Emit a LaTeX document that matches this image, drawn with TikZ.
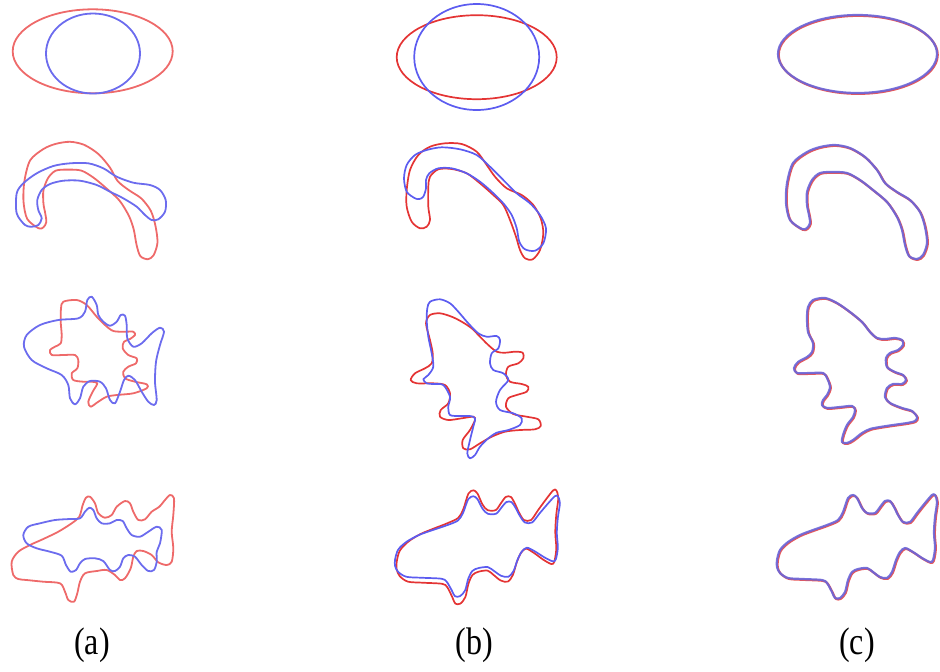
\documentclass[tikz,border=0pt]{standalone}
\usepackage{fontspec}
\setmainfont{Liberation Serif}
\definecolor{rda}{HTML}{EE6A6A}
\definecolor{bla}{HTML}{6C6CEE}
\definecolor{rdb}{HTML}{E43434}
\definecolor{blb}{HTML}{5C5CF0}
\definecolor{rdc}{HTML}{E85858}
\definecolor{blc}{HTML}{6A66DA}

\tikzset{
  reda/.style={rda,line width=0.9pt},
  bluea/.style={bla,line width=0.9pt},
  redb/.style={rdb,line width=0.85pt},
  blueb/.style={blb,line width=0.85pt},
  redc/.style={rdc,line width=1.1pt},
  bluec/.style={blc,line width=1.1pt,opacity=0.9},
  caption/.style={font=\fontsize{16}{19}\selectfont,inner sep=0pt,yscale=1.2,transform shape}
}

% outlines of the shapes, centred on (0,0)
\newcommand{\hookshape}[1]{\draw[#1] plot[smooth cycle,tension=0.5] coordinates {
  (-54,27) (-66,18) (-70,1) (-69,-19) (-63,-39) (-49,-50) (-36,-55) (-21,-57)
  (-6,-54) (9,-45) (21,-32) (29,-19) (41,-10) (54,-2) (64,10) (69,25) (71,41)
  (67,53) (61,57) (53,54) (49,43) (46,28) (41,15) (31,0) (17,-12) (4,-22)
  (-9,-29) (-23,-30) (-36,-29) (-44,-22) (-49,-10) (-49,3) (-47,13) (-46,21) (-49,26)};}
\newcommand{\birdshape}[1]{\draw[#1] plot[smooth cycle,tension=0.5] coordinates {
  (-43,-70) (-31,-72) (-19,-67) (-6,-58) (6,-48) (14,-38) (21,-32) (29,-31) (39,-32)
  (46,-30) (47,-25) (42,-20) (34,-17) (30,-12) (31,-3) (39,2) (47,5) (50,10) (46,14)
  (37,14) (31,18) (29,27) (34,33) (46,38) (56,41) (61,47) (59,51) (51,53) (37,55)
  (24,57) (14,59) (6,63) (-3,70) (-9,73) (-14,72) (-13,65) (-9,55) (-3,47) (-1,40)
  (-4,36) (-16,37) (-29,38) (-34,35) (-33,30) (-29,25) (-26,17) (-29,8) (-33,3)
  (-46,3) (-59,3) (-62,-2) (-58,-8) (-49,-13) (-44,-18) (-43,-27) (-48,-38) (-49,-52) (-48,-63)};}
\newcommand{\fishshape}[1]{\draw[#1] plot[smooth cycle,tension=0.5] coordinates {
  (-80,13) (-77,3) (-69,-5) (-57,-12) (-44,-17) (-30,-22) (-19,-27) (-14,-35) (-9,-49)
  (-4,-52) (0,-49) (5,-39) (10,-34) (18,-34) (23,-40) (28,-46) (33,-46) (37,-40)
  (41,-32) (46,-25) (53,-25) (60,-34) (68,-44) (75,-52) (78,-52) (80,-45) (78,-30)
  (77,-14) (78,1) (76,13) (73,15) (65,11) (56,5) (48,1) (43,5) (39,13) (35,25) (30,31)
  (23,30) (16,25) (10,21) (1,22) (-5,25) (-9,33) (-12,45) (-17,51) (-22,51) (-25,45)
  (-30,36) (-35,33) (-54,32) (-69,31) (-77,26) (-80,20)};}

\begin{document}
\begin{tikzpicture}[x=0.5pt,y=-0.5pt,line cap=round,line join=round]
  \useasboundingbox (0,0) rectangle (940,671);

  % ellipses
  \draw[reda] (92.7,51.3) ellipse [x radius=80,y radius=42];
  \draw[bluea] (93,53.5) ellipse [x radius=47,y radius=40];
  \draw[redb] (476.7,57.2) ellipse [x radius=80,y radius=42];
  \draw[blueb] (476.7,57) ellipse [x radius=62.5,y radius=53];
  \draw[redc] (858.2,54.8) ellipse [x radius=79.5,y radius=39];
  \draw[bluec] (857.5,54) ellipse [x radius=79.5,y radius=39];

  % hooks
  \hookshape{reda,shift={(90,200.5)},xscale=0.95,yscale=1.03}
  \draw[bluea] plot[smooth cycle,tension=0.5] coordinates {
    (25,225) (16.7,213.3) (16.7,193.3) (23.3,183.3) (36.7,173.3) (53.3,166) (70,163.3)
    (88.3,163.3) (103.3,168.3) (116.7,176.7) (133.3,182.7) (150,185) (160,190)
    (165.7,200) (165,211.7) (158.3,219.3) (151.7,220) (145,215) (136.7,206.7)
    (123.3,198.3) (110,191.7) (96.7,185) (80,180.7) (63.3,180.7) (50,184) (41.7,190)
    (37.3,200) (38.3,210) (41.7,218.3) (38.3,225) (31.7,226.7)};
  \draw[redb] plot[smooth cycle,tension=0.5] coordinates {
    (420,228.3) (411.7,221.7) (406.7,206.7) (406.7,190) (410,170) (418.3,155)
    (430,146.7) (445,143.3) (461.7,144) (476.7,151.7) (486.7,165) (495,176.7)
    (506.7,188.3) (521.7,195) (533.3,205) (540.7,218.3) (543.3,233.3) (540,250)
    (532.7,259.3) (525,258.3) (520,250) (516,236.7) (510,220) (503.3,205) (493.3,195)
    (480,183.3) (466.7,173.3) (451.7,169) (438.3,169.3) (430,176.7) (428.3,186.7)
    (428.3,206.7) (430,220) (426.7,226.7)};
  \draw[blueb] plot[smooth cycle,tension=0.5] coordinates {
    (415,198.3) (406.7,191.7) (404,178.3) (406.7,165) (415,155) (426.7,150)
    (441.7,147.3) (460,149.3) (476.7,155) (490,166.7) (503.3,180) (516.7,193.3)
    (530,203.3) (540,215) (546,228.3) (543.3,243.3) (535,250.7) (525,249.3)
    (519.3,241.7) (516.7,228.3) (511.7,215) (503.3,203.3) (491.7,191.7) (480,181.7)
    (466.7,173.3) (451.7,168.3) (438.3,168.3) (429.3,173.3) (426,180) (426,188.3)
    (423.3,196.7) (419.3,199)};
  \hookshape{redc,shift={(856.8,202.8)}}
  \hookshape{bluec,shift={(856,202)}}

  % birds
  \draw[reda] plot[smooth cycle,tension=0.5] coordinates {
    (63.3,301.7) (76.7,300) (86.7,305) (96.7,316.7) (105,325) (113.3,331) (125,331.7)
    (133.3,331.7) (135,335) (130,339) (124,341.7) (122.7,348.3) (128.3,355) (136.7,358.3)
    (136,363.3) (128.3,366.7) (123.3,371.7) (125,378.3) (135,381.7) (146.7,384.3)
    (146.7,388.3) (133.3,393.3) (116.7,395) (106.7,396.7) (98.3,401.7) (90.7,406.7)
    (88.3,401.7) (92.7,391.7) (97.3,383.3) (91.7,381.7) (83.3,381.7) (73.3,380)
    (71.7,373.3) (77.3,368.3) (78.3,360) (75,355) (63.3,355) (51.7,355) (50,350)
    (55,346.7) (60.7,343.3) (61.7,335) (60.7,321.7) (61,308.3)};
  \draw[bluea] plot[smooth cycle,tension=0.5] coordinates {
    (91.7,296.7) (96.7,305) (98.3,315) (103.3,321.7) (110,325.7) (116.7,321.7)
    (120.7,315) (125,315.7) (126.7,325) (127.3,338.3) (133.3,346.7) (141.7,343.3)
    (151.7,333.3) (160,327.7) (164,331.7) (160,345) (156,361.7) (155,381.7) (156.7,400)
    (154,405) (148.3,401.7) (141.7,391.7) (135,380) (128.3,375.7) (124,380) (120,391.7)
    (115,403.3) (110,400) (106,388.3) (100,381.7) (90,381) (83.3,386.7) (80,398.3)
    (75,404.3) (70,398.3) (68.3,385) (61.7,375) (46.7,368.3) (31.7,360) (24,346.7)
    (26.7,335) (40,325) (58.3,320) (78.3,318.3) (85,311.7) (87.3,300)};
  \draw[redb] plot[smooth cycle,tension=0.5] coordinates {
    (430,315) (440,313.3) (451.7,316.7) (461.7,321.7) (471.7,328.3) (480,336.7)
    (488.3,345) (496.7,351.7) (505,352.7) (515,351.7) (522.7,352.7) (523.3,358.3)
    (518.3,363.3) (508.3,366.7) (506,375) (510,381.7) (521.7,384) (528.3,386.7)
    (526.7,391.7) (516.7,395) (508.3,398.3) (506,406.7) (513.3,414) (526.7,416.7)
    (538.3,419.3) (540.7,426) (535,429.3) (520,430) (505,431.7) (491.7,436.7) (480,443.3)
    (470,449.3) (463.3,448.3) (462.7,440) (470,430) (475,420) (473.3,416.7) (461.7,418.3)
    (448.3,420) (440,416.7) (440.7,410) (448.3,403.3) (450,393.3) (445,385) (433.3,383.3)
    (416.7,383.3) (410.7,380) (415,373.3) (425,368.3) (431.7,363.3) (432.7,353.3)
    (430,340) (426,323.3)};
  \draw[blueb] plot[smooth cycle,tension=0.5] coordinates {
    (430,301.7) (440,299.3) (450,303.3) (458.3,311.7) (468.3,323.3) (478.3,333.3)
    (486.7,336.7) (496.7,336) (500,340) (498.3,348.3) (491.7,353.3) (490,363.3)
    (493.3,370) (503.3,373.3) (508.3,380) (500,390) (496,401.7) (500,410) (513.3,413.3)
    (521.7,418.3) (520,425) (508.3,430) (496.7,432.7) (488.3,438.3) (480,446.7) (475,455)
    (470,458.3) (467.3,453.3) (470,440) (473.3,426.7) (475,418.3) (470,416) (460,416)
    (450,415) (448.3,406.7) (450,396.7) (443.3,385) (433.3,384) (426.7,383.3)
    (423.3,379.3) (428.3,375) (433.3,366.7) (431.7,353.3) (428.3,336.7) (426.7,320)
    (427.3,308.3)};
  \birdshape{redc,shift={(856.8,370.8)}}
  \birdshape{bluec,shift={(856,370)}}

  % fishes
  \draw[reda] plot[smooth cycle,tension=0.5] coordinates {
    (13.3,575) (11.7,561.7) (18.3,551.7) (30,545) (43.3,539) (58.3,531.7) (71.7,523.3)
    (79.3,516.7) (82.7,505) (86,497.7) (90,496.7) (95,503.3) (98.3,513.3) (105,517.7)
    (111.7,515) (116.7,506.7) (125,501) (130,503.3) (133.3,511.7) (138.3,520) (145,519.3)
    (151.7,511.7) (159.3,506.7) (165,500) (170,495) (174,498.3) (173.3,515) (171.7,531.7)
    (173.3,548.3) (171.7,561.7) (166.7,565) (158.3,562.3) (151.7,555) (143.3,551)
    (136.7,551) (133.3,556.7) (130.7,568.3) (125,578.3) (120,580) (115,575) (106.7,570)
    (96.7,571) (85,573.3) (80,581.7) (77.3,593.3) (74,601.7) (68.3,600) (65,591.7)
    (60,583.3) (43.3,581.7) (26.7,580) (18.3,579)};
  \draw[bluea] plot[smooth cycle,tension=0.5] coordinates {
    (23.3,535) (28.3,526.7) (40,523.3) (55,520) (70,519) (80,518.3) (85,511.7)
    (89.3,507.7) (93.3,510) (96.7,518.3) (101.7,523.3) (110,523.3) (116.7,520)
    (122.7,521) (126.7,528.3) (131.7,535) (140,536.7) (148.3,531.7) (156.7,526.7)
    (161.7,530) (160,543.3) (156.7,551.7) (156.7,561.7) (154,570) (148.3,571)
    (141.7,565) (135,556.7) (128.3,555) (123.3,558.3) (120,566.7) (115,571) (110,570)
    (103.3,561) (95,558.3) (85,559) (80,563.3) (76,570) (70.7,571.7) (66,565)
    (61.7,555.7) (50,551.7) (36.7,548.3) (26.7,543.3)};
  \fishshape{redb,shift={(477.5,547.5)},xscale=1.01,yscale=1.1}
  \fishshape{blueb,shift={(477.5,546.7)},xscale=1.03,yscale=0.97}
  \fishshape{redc,shift={(857.8,547.8)}}
  \fishshape{bluec,shift={(857,547)}}

  % captions
  \node[caption] (capa) at (92,645.5) {(a)};
  \node[caption] (capb) at (474,645.5) {(b)};
  \node[caption] (capc) at (857,645.5) {(c)};
\end{tikzpicture}
\end{document}
